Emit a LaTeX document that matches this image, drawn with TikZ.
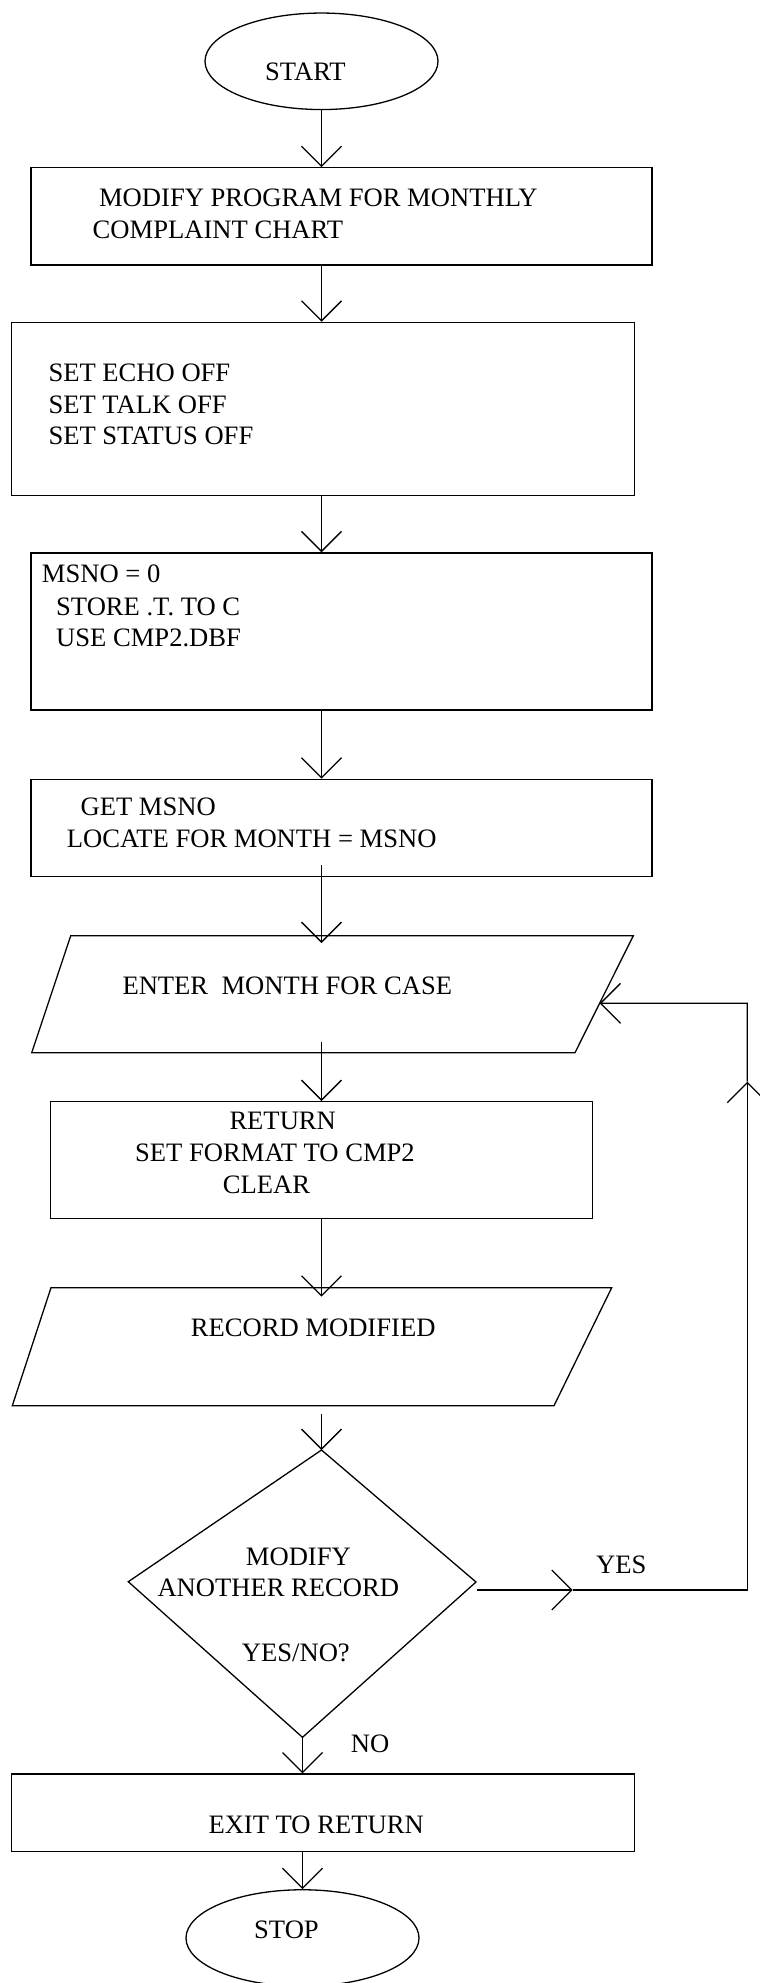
\documentclass[tikz,border=0pt]{standalone}
\usepackage{fontspec}
\setmainfont{Liberation Serif}
\usetikzlibrary{arrows.meta,shapes.geometric,calc}
\begin{document}
\begin{tikzpicture}[x=1pt,y=-1pt,
  outline/.style={draw, line width=1.3pt},
  box/.style={outline, rectangle, inner sep=0pt},
  term/.style={outline, ellipse, inner sep=0pt, minimum height=96.5pt},
  txt/.style={anchor=base west, inner sep=0pt, font=\fontsize{26.6}{31.7}\selectfont},
  flow/.style={line width=1.3pt, -{Straight Barb[length=20pt,width=40pt]}}
]
\useasboundingbox (0,0) rectangle (760,1983);

% flow axes
\coordinate (ax) at (321.5,0);
\coordinate (bx) at (302.5,0);

% terminals and process boxes
\node[term, minimum width=233pt] (start) at (321.5,61.3) {};
\node[box, minimum width=621pt, minimum height=97.3pt] (b1) at (341.5,216.4) {};
\node[box, minimum width=623.5pt, minimum height=173.2pt] (b2) at (323,409) {};
\node[box, minimum width=621pt, minimum height=157.2pt] (b3) at (341.5,631.5) {};
\node[box, minimum width=621pt, minimum height=97.2pt] (b4) at (341.5,827.9) {};
\node[box, minimum width=541.6pt, minimum height=116.6pt] (b5) at (321.5,1160) {};
\node[box, minimum width=623.5pt, minimum height=77.3pt] (b6) at (323,1812.7) {};
\node[term, minimum width=233pt] (stop) at (302.5,1938) {};

% input/output parallelograms
\coordinate (p1tl) at (70.7,935.7);
\coordinate (p1tr) at (633.3,935.7);
\coordinate (p1br) at (575,1052.7);
\coordinate (p1bl) at (31.7,1052.7);
\draw[line width=1.3pt] (p1tl) -- (p1tr) -- (p1br) -- (p1bl) -- cycle;

\coordinate (p2tl) at (51,1287.7);
\coordinate (p2tr) at (611.7,1287.7);
\coordinate (p2br) at (554,1405.7);
\coordinate (p2bl) at (12.3,1405.7);
\draw[line width=1.3pt] (p2tl) -- (p2tr) -- (p2br) -- (p2bl) -- cycle;

% decision
\coordinate (dT) at (321.5,1450);
\coordinate (dR) at (476,1582);
\coordinate (dB) at (302.5,1737.3);
\coordinate (dL) at (128.3,1581.7);
\draw[line width=1.3pt, line join=miter] (dT) -- (dR) -- (dB) -- (dL) -- cycle;

% texts
\node[txt] (tstart) at (265,81) {START};
\node[txt] (t1a) at (98.9,206.7) {MODIFY PROGRAM FOR MONTHLY};
\node[txt] (t1b) at (92.5,238.3) {COMPLAINT CHART};
\node[txt] (t2a) at (48.3,381.7) {SET ECHO OFF};
\node[txt] (t2b) at (48.3,413.3) {SET TALK OFF};
\node[txt] (t2c) at (48.3,444.3) {SET STATUS OFF};
\node[txt] (t3a) at (41.7,582.5) {MSNO = 0};
\node[txt] (t3b) at (56,615) {STORE .T. TO C};
\node[txt] (t3c) at (56,646.7) {USE CMP2.DBF};
\node[txt] (t4a) at (80.4,815) {GET MSNO};
\node[txt] (t4b) at (66.7,847.3) {LOCATE FOR MONTH = MSNO};
\node[txt] (tp1) at (122.3,994) {ENTER\ \ MONTH FOR CASE};
\node[txt] (t5a) at (229.3,1129.3) {RETURN};
\node[txt] (t5b) at (135,1161.7) {SET FORMAT TO CMP2};
\node[txt] (t5c) at (222.7,1193.3) {CLEAR};
\node[txt] (tp2) at (190.7,1336.7) {RECORD MODIFIED};
\node[txt] (tda) at (245.7,1565) {MODIFY};
\node[txt] (tdb) at (157.3,1596.7) {ANOTHER RECORD};
\node[txt] (tdc) at (241.7,1661.3) {YES/NO?};
\node[txt] (tyes) at (596,1573.3) {YES};
\node[txt] (tno) at (350.7,1752.3) {NO};
\node[txt] (t6) at (208.3,1833.7) {EXIT TO RETURN};
\node[txt] (tstop) at (254,1938) {STOP};

% main flow
\coordinate (c4) at (321.5,865);
\coordinate (p1in) at (321.5,943);
\coordinate (c5) at (321.5,1042.3);
\coordinate (p2in) at (321.5,1296.7);
\coordinate (c7) at (321.5,1414);
\draw[flow] (start.south) -- (start.south |- b1.north);
\draw[flow] (b1.south -| ax) -- (b2.north -| ax);
\draw[flow] (b2.south -| ax) -- (b3.north -| ax);
\draw[flow] (b3.south -| ax) -- (b4.north -| ax);
\draw[flow] (c4) -- (p1in);
\draw[flow] (c5) -- (b5.north -| ax);
\draw[flow] (b5.south -| ax) -- (p2in);
\draw[flow] (c7) -- (dT);
\draw[flow] (dB) -- (dB |- b6.north);
\draw[flow] (b6.south -| bx) -- (stop.north);

% YES loop back to the month entry
\coordinate (yes0) at (477,1590);
\coordinate (yesm) at (572.7,1590);
\coordinate (lb) at (747.3,1590);
\coordinate (lm) at (747.3,1081.7);
\coordinate (lt) at (747.3,1003.3);
\coordinate (p1r) at ($(p1tr)!0.578!(p1br)$);
\draw[flow] (yes0) -- (yesm);
\draw[flow] (yesm) -- (lb) -- (lm);
\draw[flow] (lm) -- (lt) -- (p1r);
\end{tikzpicture}
\end{document}
